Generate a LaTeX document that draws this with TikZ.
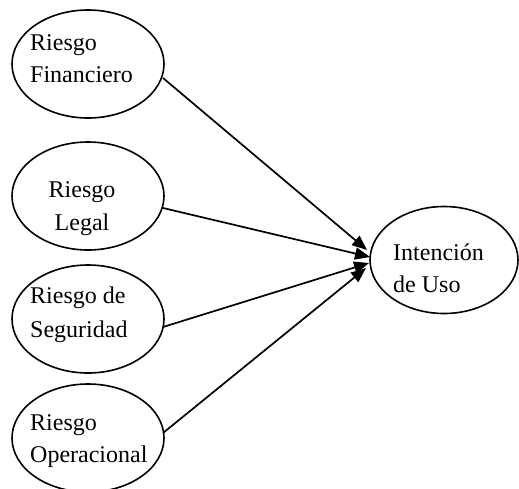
\documentclass[tikz,border=0pt]{standalone}
\usepackage{fontspec}
\setmainfont{Liberation Serif}
\usetikzlibrary{shapes.geometric,arrows.meta}
\begin{document}
\begin{tikzpicture}[x=1pt,y=-1pt,
  ell/.style={draw,line width=1.6pt,ellipse,minimum width=152pt,minimum height=108pt,inner sep=0pt},
  txt/.style={anchor=base west,inner sep=0pt,font=\fontsize{24}{30}\selectfont},
  ctxt/.style={anchor=base,inner sep=0pt,font=\fontsize{24}{30}\selectfont},
  link/.style={line width=1.7pt,-{Triangle[length=15pt,width=12pt]}}]
\useasboundingbox (0,0) rectangle (519,488);
\fill[white] (0,0) rectangle (519,488);
\node[ell] (fin) at (88,64) {};
\node[ell] (leg) at (88,196) {};
\node[ell] (seg) at (88,319) {};
\node[ell] (ope) at (88,438) {};
\node[ell,minimum width=148pt,minimum height=107pt] (int) at (444,260) {};
\node[txt] (t1a) at (30,50) {Riesgo};
\node[txt] (t1b) at (30,82) {Financiero};
\node[ctxt] (t2a) at (82,197) {Riesgo};
\node[ctxt] (t2b) at (82,230) {Legal};
\node[txt] (t3a) at (30,303) {Riesgo de};
\node[txt] (t3b) at (30,337) {Seguridad};
\node[txt] (t4a) at (30,430) {Riesgo};
\node[txt] (t4b) at (30,462) {Operacional};
\node[txt] (t5a) at (393,260) {Intención};
\node[txt] (t5b) at (393,292) {de Uso};
\coordinate (s1) at (163,78);
\coordinate (s2) at (163,208);
\coordinate (s3) at (163,327);
\coordinate (s4) at (163,433);
\coordinate (e1) at (367,250);
\coordinate (e2) at (370,257);
\coordinate (e3) at (369,263);
\coordinate (e4) at (366,268);
\draw[link] (s1) -- (e1);
\draw[link] (s2) -- (e2);
\draw[link] (s3) -- (e3);
\draw[link] (s4) -- (e4);
\end{tikzpicture}
\end{document}
